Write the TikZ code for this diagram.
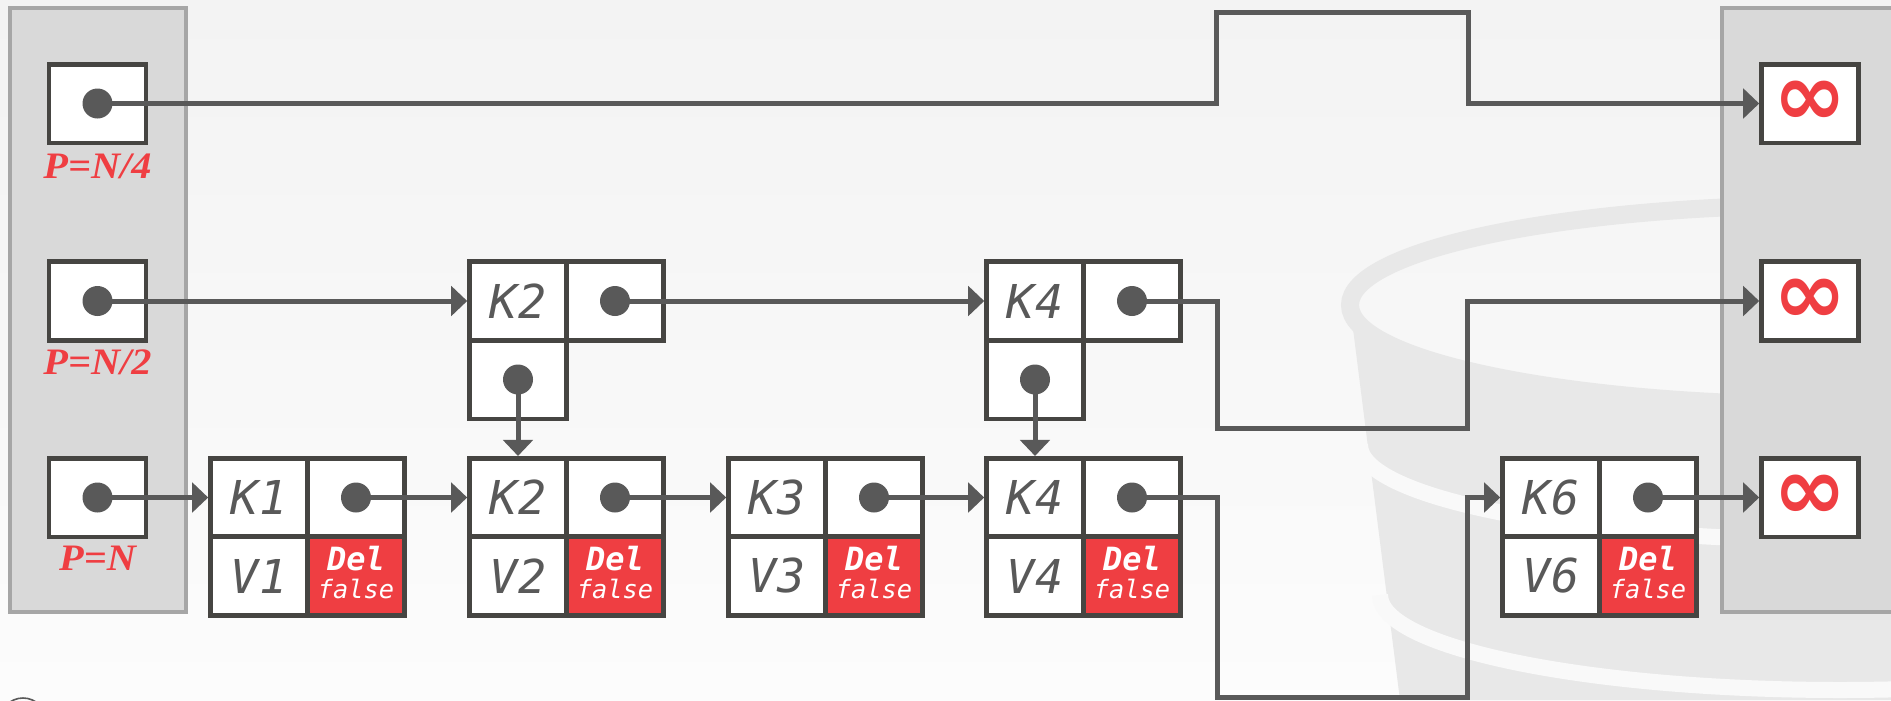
\documentclass[tikz,border=0pt]{standalone}
\usepackage{fontspec}
\usetikzlibrary{arrows.meta}
\newfontfamily\kvfam{DejaVu Sans Mono}
\newfontfamily\serfam{Liberation Serif}
\newfontfamily\symfam{DejaVu Sans}
\definecolor{boxc}{HTML}{464542}
\definecolor{linec}{HTML}{595959}
\definecolor{txtc}{HTML}{595959}
\definecolor{redc}{HTML}{EF3E42}
\definecolor{panelc}{HTML}{D9D9D9}
\definecolor{panelb}{HTML}{A6A6A6}
\definecolor{bgtop}{HTML}{F3F3F3}
\definecolor{bgbot}{HTML}{FCFCFC}
\definecolor{bgmid}{HTML}{F9F9F9}
\definecolor{wm}{HTML}{E8E8E8}
\tikzset{
  cell/.style={draw=boxc, line width=3.4pt, fill=white, minimum width=72.8pt, minimum height=58.9pt, inner sep=0pt, text=txtc, font=\kvfam\itshape\fontsize{35}{35}\selectfont},
  delcell/.style={cell, fill=redc},
  deltxt/.style={text=white, font=\kvfam\bfseries\itshape\fontsize{24}{24}\selectfont, inner sep=0pt, anchor=base},
  falsetxt/.style={text=white, font=\kvfam\itshape\fontsize{19}{19}\selectfont, inner sep=0pt, anchor=base},
  conn/.style={draw=linec, line width=3.75pt, -{Triangle[length=12pt,width=22pt]}},
  dotc/.style={fill=linec},
  lbl/.style={text=redc, font=\serfam\bfseries\itshape\fontsize{28}{28}\selectfont, inner sep=0pt, anchor=base},
  infbox/.style={cell, text=redc, font=\symfam\bfseries\fontsize{66}{66}\selectfont},
  panel/.style={fill=panelc, draw=panelb, line width=2.3pt},
}
\newcommand{\mkKV}[3]{%
  \node[cell] (#1k) at (#2,497.5) {K#3};
  \node[cell] (#1p) at (#2+97,497.5) {};
  \node[cell] (#1v) at (#2,576) {V#3};
  \node[delcell] (#1d) at (#2+97,576) {};
  \node[deltxt] (#1dl) at (#2+97,570) {Del};
  \node[falsetxt] (#1df) at (#2+97,598) {false};
  \fill[dotc] (#1p.center) circle[radius=15];
}
\newcommand{\mkIdx}[3]{%
  \node[cell] (#1k) at (#2,301) {K#3};
  \node[cell] (#1p) at (#2+97,301) {};
  \node[cell] (#1d) at (#2,379.5) {};
  \fill[dotc] (#1p.center) circle[radius=15];
  \fill[dotc] (#1d.center) circle[radius=15];
}
\begin{document}
\begin{tikzpicture}[x=0.75pt,y=-0.75pt]
\clip (0,0) rectangle (1891,700);
\shade[top color=bgtop,bottom color=bgbot] (0,0) rectangle (1891,700);
% watermark
\fill[wm] (1350,305) arc[start angle=180,end angle=0,x radius=480,y radius=95] -- (2310,700) -- (1400,700) -- cycle;
\draw[bgmid, line width=12pt] (1360,445) arc[start angle=180,end angle=0,x radius=475,y radius=95];
\draw[bgmid, line width=12pt] (1380,595) arc[start angle=180,end angle=0,x radius=460,y radius=95];
\draw[wm, line width=13.5pt] (1830,305) ellipse[x radius=480,y radius=100];
\draw[linec, line width=1.2pt] (23,721) circle[radius=23];
% panels
\draw[panel] (10,8) rectangle (186,612);
\draw[panel] (1722,8) rectangle (1900,612);
% left boxes
\node[cell] (L4) at (97.5,103.5) {};
\node[cell] (L2) at (97.5,301) {};
\node[cell] (L1) at (97.5,497.5) {};
\fill[dotc] (L4.center) circle[radius=15];
\fill[dotc] (L2.center) circle[radius=15];
\fill[dotc] (L1.center) circle[radius=15];
\node[lbl] (L4t) at (97.5,178) {\scalebox{1.08}[1]{P=N/4}};
\node[lbl] (L2t) at (97.5,374) {\scalebox{1.08}[1]{P=N/2}};
\node[lbl] (L1t) at (97.5,570) {\scalebox{1.08}[1]{P=N}};
% infinity boxes
\node[infbox] (I4) at (1810,103.5) {∞};
\node[infbox] (I2) at (1810,301) {∞};
\node[infbox] (I1) at (1810,497.5) {∞};
% data nodes
\mkKV{B1}{259}{1}
\mkKV{B2}{518}{2}
\mkKV{B3}{777}{3}
\mkKV{B4}{1035}{4}
\mkKV{B6}{1551}{6}
\mkIdx{U2}{518}{2}
\mkIdx{U4}{1035}{4}
% connectors
\draw[conn] (L4.center) -| (1216,12) -| (1468,103.5) -- (I4.west);
\draw[conn] (L2.center) -- (U2k.west);
\draw[conn] (U2p.center) -- (U4k.west);
\draw[conn] (U4p.center) -| (1217,428) -| (1467,301) -- (I2.west);
\draw[conn] (U2d.center) -- (B2k.north);
\draw[conn] (U4d.center) -- (B4k.north);
\draw[conn] (L1.center) -- (B1k.west);
\draw[conn] (B1p.center) -- (B2k.west);
\draw[conn] (B2p.center) -- (B3k.west);
\draw[conn] (B3p.center) -- (B4k.west);
\draw[conn] (B4p.center) -| (1217,697) -| (1467,497.5) -- (B6k.west);
\draw[conn] (B6p.center) -- (I1.west);
\end{tikzpicture}
\end{document}
